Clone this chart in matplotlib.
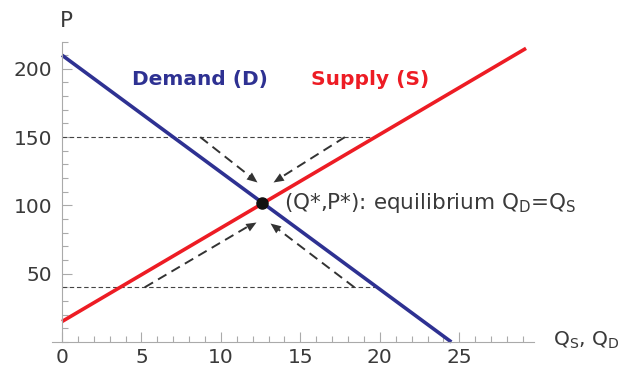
import numpy as np
import matplotlib.pyplot as plt
from matplotlib.ticker import MultipleLocator

plt.rcParams['font.family'] = ['DejaVu Sans']
plt.rcParams['mathtext.fontset'] = 'dejavusans'

# -- data
demand_q = [0, 24.5]
demand_p = [210, 0]
supply_q = [0, 29.2]
supply_p = [15, 215]
eq_q, eq_p = 12.6, 101.8

# price above / below equilibrium and where the guide lines stop
high_p, high_end = 150, 19.7
low_p, low_end = 40, 19.8

# adjustment arrows (start -> end)
arrows = [((8.7, 150), (12.3, 117)),
          ((17.8, 150), (13.3, 117)),
          ((5.2, 40), (12.2, 88)),
          ((18.4, 40), (13.1, 87))]

blue = '#2e3192'
red = '#ed1c24'
txt = '#3a3a3a'
axc = '#aaaaaa'
arc = '#333333'
fs = 14.5

fig = plt.figure(figsize=(6.18, 3.67), dpi=100)
ax = fig.add_axes([52/618, 25/367, (534-52)/618, 300.5/367])
ax.set_xlim(-0.63, 29.7)
ax.set_ylim(0, 220)

ax.plot([0, high_end], [high_p, high_p], color='#444444', lw=0.8, ls=(0, (4, 2.5)))
ax.plot([0, low_end], [low_p, low_p], color='#444444', lw=0.8, ls=(0, (4, 2.5)))

ax.plot(demand_q, demand_p, color=blue, lw=2.6, solid_capstyle='butt', clip_on=False)
ax.plot(supply_q, supply_p, color=red, lw=2.6, solid_capstyle='butt', clip_on=False)

head_px = 11
for (x0, y0), (x1, y1) in arrows:
    p0 = ax.transData.transform((x0, y0))
    p1 = ax.transData.transform((x1, y1))
    d = (p1 - p0) / np.hypot(*(p1 - p0))
    # dashed shaft up to the base of the head
    pb = ax.transData.inverted().transform(p1 - d * head_px * 0.8)
    ax.plot([x0, pb[0]], [y0, pb[1]], color=arc, lw=1.4, ls=(0, (5, 3)))
    # filled head, tip at (x1, y1)
    c, s = d
    verts = [(0, 0), (-1, 0.42), (-1, -0.42), (0, 0)]
    verts = [(vx * c - vy * s, vx * s + vy * c) for vx, vy in verts]
    ax.plot([x1], [y1], marker=verts, ms=2 * head_px * 0.72, color=arc, mew=0)

ax.plot([eq_q], [eq_p], 'o', color='#111111', ms=8, zorder=5)

ax.text(8.7, 192, 'Demand (D)', color=blue, fontsize=fs, fontweight='bold',
        ha='center', va='center')
ax.text(19.4, 192, 'Supply (S)', color=red, fontsize=fs, fontweight='bold',
        ha='center', va='center')
ax.text(14.0, eq_p, r'(Q*,P*): equilibrium Q$_\mathregular{D}$=Q$_\mathregular{S}$',
        color=txt, fontsize=15.5, ha='left', va='center')

ax.spines['left'].set_position(('data', 0))
ax.spines['bottom'].set_position(('data', 0))
ax.spines['top'].set_visible(False)
ax.spines['right'].set_visible(False)
ax.spines['left'].set_color(axc)
ax.spines['bottom'].set_color(axc)

ax.xaxis.set_major_locator(MultipleLocator(5))
ax.xaxis.set_minor_locator(MultipleLocator(1))
ax.yaxis.set_major_locator(MultipleLocator(50))
ax.yaxis.set_minor_locator(MultipleLocator(10))
ax.set_xticks([0, 5, 10, 15, 20, 25])
ax.set_yticks([50, 100, 150, 200])
ax.tick_params(which='both', direction='in', color=axc, labelcolor=txt, labelsize=fs)
ax.tick_params(which='major', length=7, width=0.8)
ax.tick_params(which='minor', length=4, width=0.8)
ax.tick_params(axis='y', pad=7)
ax.tick_params(axis='x', pad=4)

fig.text(66/618, 1 - 21/367, 'P', color=txt, fontsize=15.5, ha='center', va='center')
fig.text(553/618, 1 - 340/367, r'Q$_\mathregular{S}$, Q$_\mathregular{D}$',
         color=txt, fontsize=fs, ha='left', va='center')

fig.savefig('out.png', dpi=100)
